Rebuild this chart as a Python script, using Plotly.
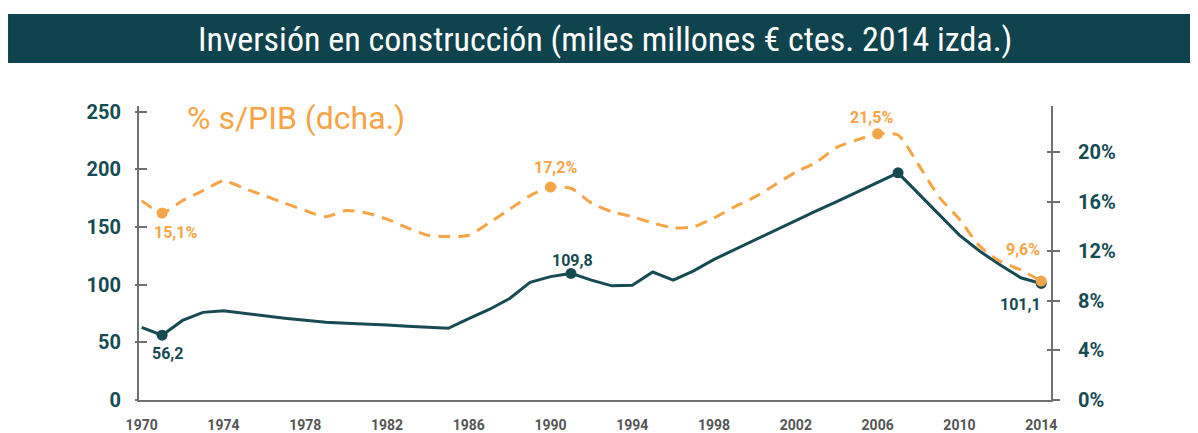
import plotly.graph_objects as go

# ---------------- data ----------------
years = list(range(1970, 2015))
inversion = [63, 56.2, 69, 76, 77.5, 75, 73, 71, 69, 67.5,
             66.5, 66, 65, 64, 63, 62.2, 70.5, 78.5, 88, 102,
             107, 109.8, 104, 99, 99.5, 111, 104, 112, 122, 130.5,
             139, 147, 155.5, 164, 172, 180.5, 189, 197, 179, 161,
             143, 129, 117, 106, 101.1]
pib_pct = [16.1, 15.1, 16.1, 16.9, 17.7, 17.1, 16.5, 15.9, 15.3, 14.8,
           15.3, 15.1, 14.6, 13.9, 13.3, 13.2, 13.3, 14.3, 15.4, 16.5,
           17.2, 17.1, 15.9, 15.2, 14.8, 14.3, 13.9, 14.0, 14.7, 15.6,
           16.4, 17.4, 18.4, 19.2, 20.4, 21.0, 21.5, 21.4, 19.0, 16.4,
           14.6, 12.4, 11.2, 10.5, 9.6]

inv_mark_years = [1971, 1991, 2007, 2014]
inv_label_years = [1971, 1991, 2014]
inv_labels = ["56,2", "109,8", "101,1"]
pib_mark_years = [1971, 1990, 2006, 2014]
pib_labels = ["15,1%", "17,2%", "21,5%", "9,6%"]

x_ticks = list(range(1970, 2015, 4))
left_ticks = [0, 50, 100, 150, 200, 250]
right_ticks = [0, 4, 8, 12, 16, 20]

title_text = "Inversión en construcción (miles millones € ctes. 2014 izda.)"
right_title = "% s/PIB (dcha.)"

# ---------------- style ----------------
NAVY = "#174b54"
BAR = "#0f434d"
ORANGE = "#f6a445"
AXIS = "#707070"
XTICK = "#555555"
COND = "Roboto Condensed, DejaVu Sans Condensed, Liberation Sans Narrow, Roboto, sans-serif"
DIN = "Roboto, Open Sans, sans-serif"

val = dict(zip(years, inversion))
pct = dict(zip(years, pib_pct))

fig = go.Figure()

fig.add_trace(go.Scatter(x=years, y=pib_pct, yaxis="y2", mode="lines",
                         line=dict(color=ORANGE, width=3, dash="12px,8px", shape="spline", smoothing=0.6),
                         hoverinfo="skip", showlegend=False))
fig.add_trace(go.Scatter(x=years, y=inversion, mode="lines",
                         line=dict(color=NAVY, width=3),
                         hoverinfo="skip", showlegend=False))
fig.add_trace(go.Scatter(x=pib_mark_years, y=[pct[y] for y in pib_mark_years], yaxis="y2",
                         mode="markers", marker=dict(color=ORANGE, size=11),
                         hoverinfo="skip", showlegend=False))
fig.add_trace(go.Scatter(x=inv_mark_years, y=[val[y] for y in inv_mark_years],
                         mode="markers", marker=dict(color=NAVY, size=11),
                         hoverinfo="skip", showlegend=False))

ann = []
inv_shift = {1971: (5, -18), 1991: (2, 13), 2014: (-21, -21)}
for yr, t in zip(inv_label_years, inv_labels):
    dx, dy = inv_shift[yr]
    ann.append(dict(x=yr, y=val[yr], xref="x", yref="y", text=t, showarrow=False,
                    xshift=dx, yshift=dy, font=dict(family=DIN, size=16, color=NAVY, weight="bold")))
pib_shift = {1971: (13, -19), 1990: (5, 19), 2006: (-6, 16), 2014: (-18, 32)}
for yr, t in zip(pib_mark_years, pib_labels):
    dx, dy = pib_shift[yr]
    ann.append(dict(x=yr, y=pct[yr], xref="x", yref="y2", text=t, showarrow=False,
                    xshift=dx, yshift=dy, font=dict(family=DIN, size=16, color=ORANGE, weight="bold")))

ann.append(dict(x=0.511, y=1.228, xref="paper", yref="paper", text=title_text, showarrow=False,
                xanchor="center", yanchor="middle",
                font=dict(family=COND, size=34, color="white")))
ann.append(dict(x=0.0504, y=0.959, xref="paper", yref="paper", text=right_title, showarrow=False,
                xanchor="left", yanchor="middle",
                font=dict(family=DIN, size=32, color=ORANGE)))

shapes = [dict(type="rect", xref="paper", yref="paper", x0=-0.1436, x1=1.2, y0=1.1463, y1=1.3129,
               fillcolor=BAR, line=dict(width=0), layer="below")]

XR = [1969.87, 2014.48]
LR = [0, 255]
RR = [0, 23.74]

fig.update_layout(
    template="none",
    width=1190, height=425,
    margin=dict(l=131, r=147, t=98, b=33, pad=0, autoexpand=False),
    paper_bgcolor="white", plot_bgcolor="white",
    showlegend=False,
    annotations=ann, shapes=shapes,
    xaxis=dict(range=XR, tickmode="array", tickvals=x_ticks, ticktext=[str(v) for v in x_ticks],
               automargin=False,
               showgrid=False, zeroline=False, showline=True, linecolor=AXIS, linewidth=2,
               ticks="", tickfont=dict(family=DIN, size=14, color=XTICK, weight="bold"),
               ticklabelstandoff=11),
    yaxis=dict(range=LR, tickmode="array", tickvals=left_ticks, showgrid=False, zeroline=False,
               automargin=False,
               showline=True, linecolor=AXIS, linewidth=2, ticks="inside", ticklen=8, tickwidth=2,
               tickcolor=AXIS, tickfont=dict(family=DIN, size=20, color=NAVY, weight="bold"),
               ticklabelstandoff=12),
    yaxis2=dict(range=RR, overlaying="y", side="right", tickmode="array", tickvals=right_ticks,
                automargin=False,
                ticktext=[f"{v}%" for v in right_ticks], showgrid=False, zeroline=False,
                showline=True, linecolor=AXIS, linewidth=2, ticks="outside", ticklen=7, tickwidth=2,
                tickcolor=AXIS, tickfont=dict(family=DIN, size=20, color=NAVY, weight="bold"),
                ticklabelstandoff=14),
    yaxis3=dict(range=LR, overlaying="y", side="left", tickmode="array", tickvals=left_ticks,
                automargin=False,
                showgrid=False, zeroline=False, showline=False, ticks="outside", ticklen=3,
                tickwidth=2, tickcolor=AXIS, showticklabels=False),
    yaxis4=dict(range=RR, overlaying="y", side="right", tickmode="array", tickvals=right_ticks,
                automargin=False,
                showgrid=False, zeroline=False, showline=False, ticks="inside", ticklen=4,
                tickwidth=2, tickcolor=AXIS, showticklabels=False),
)
# invisible anchor traces so the overlay tick axes are drawn
fig.add_trace(go.Scatter(x=[years[0]], y=[left_ticks[0]], yaxis="y3", mode="markers",
                         marker=dict(opacity=0), hoverinfo="skip", showlegend=False))
fig.add_trace(go.Scatter(x=[years[0]], y=[right_ticks[0]], yaxis="y4", mode="markers",
                         marker=dict(opacity=0), hoverinfo="skip", showlegend=False))

fig.write_html("out.html", config={"displayModeBar": False})
